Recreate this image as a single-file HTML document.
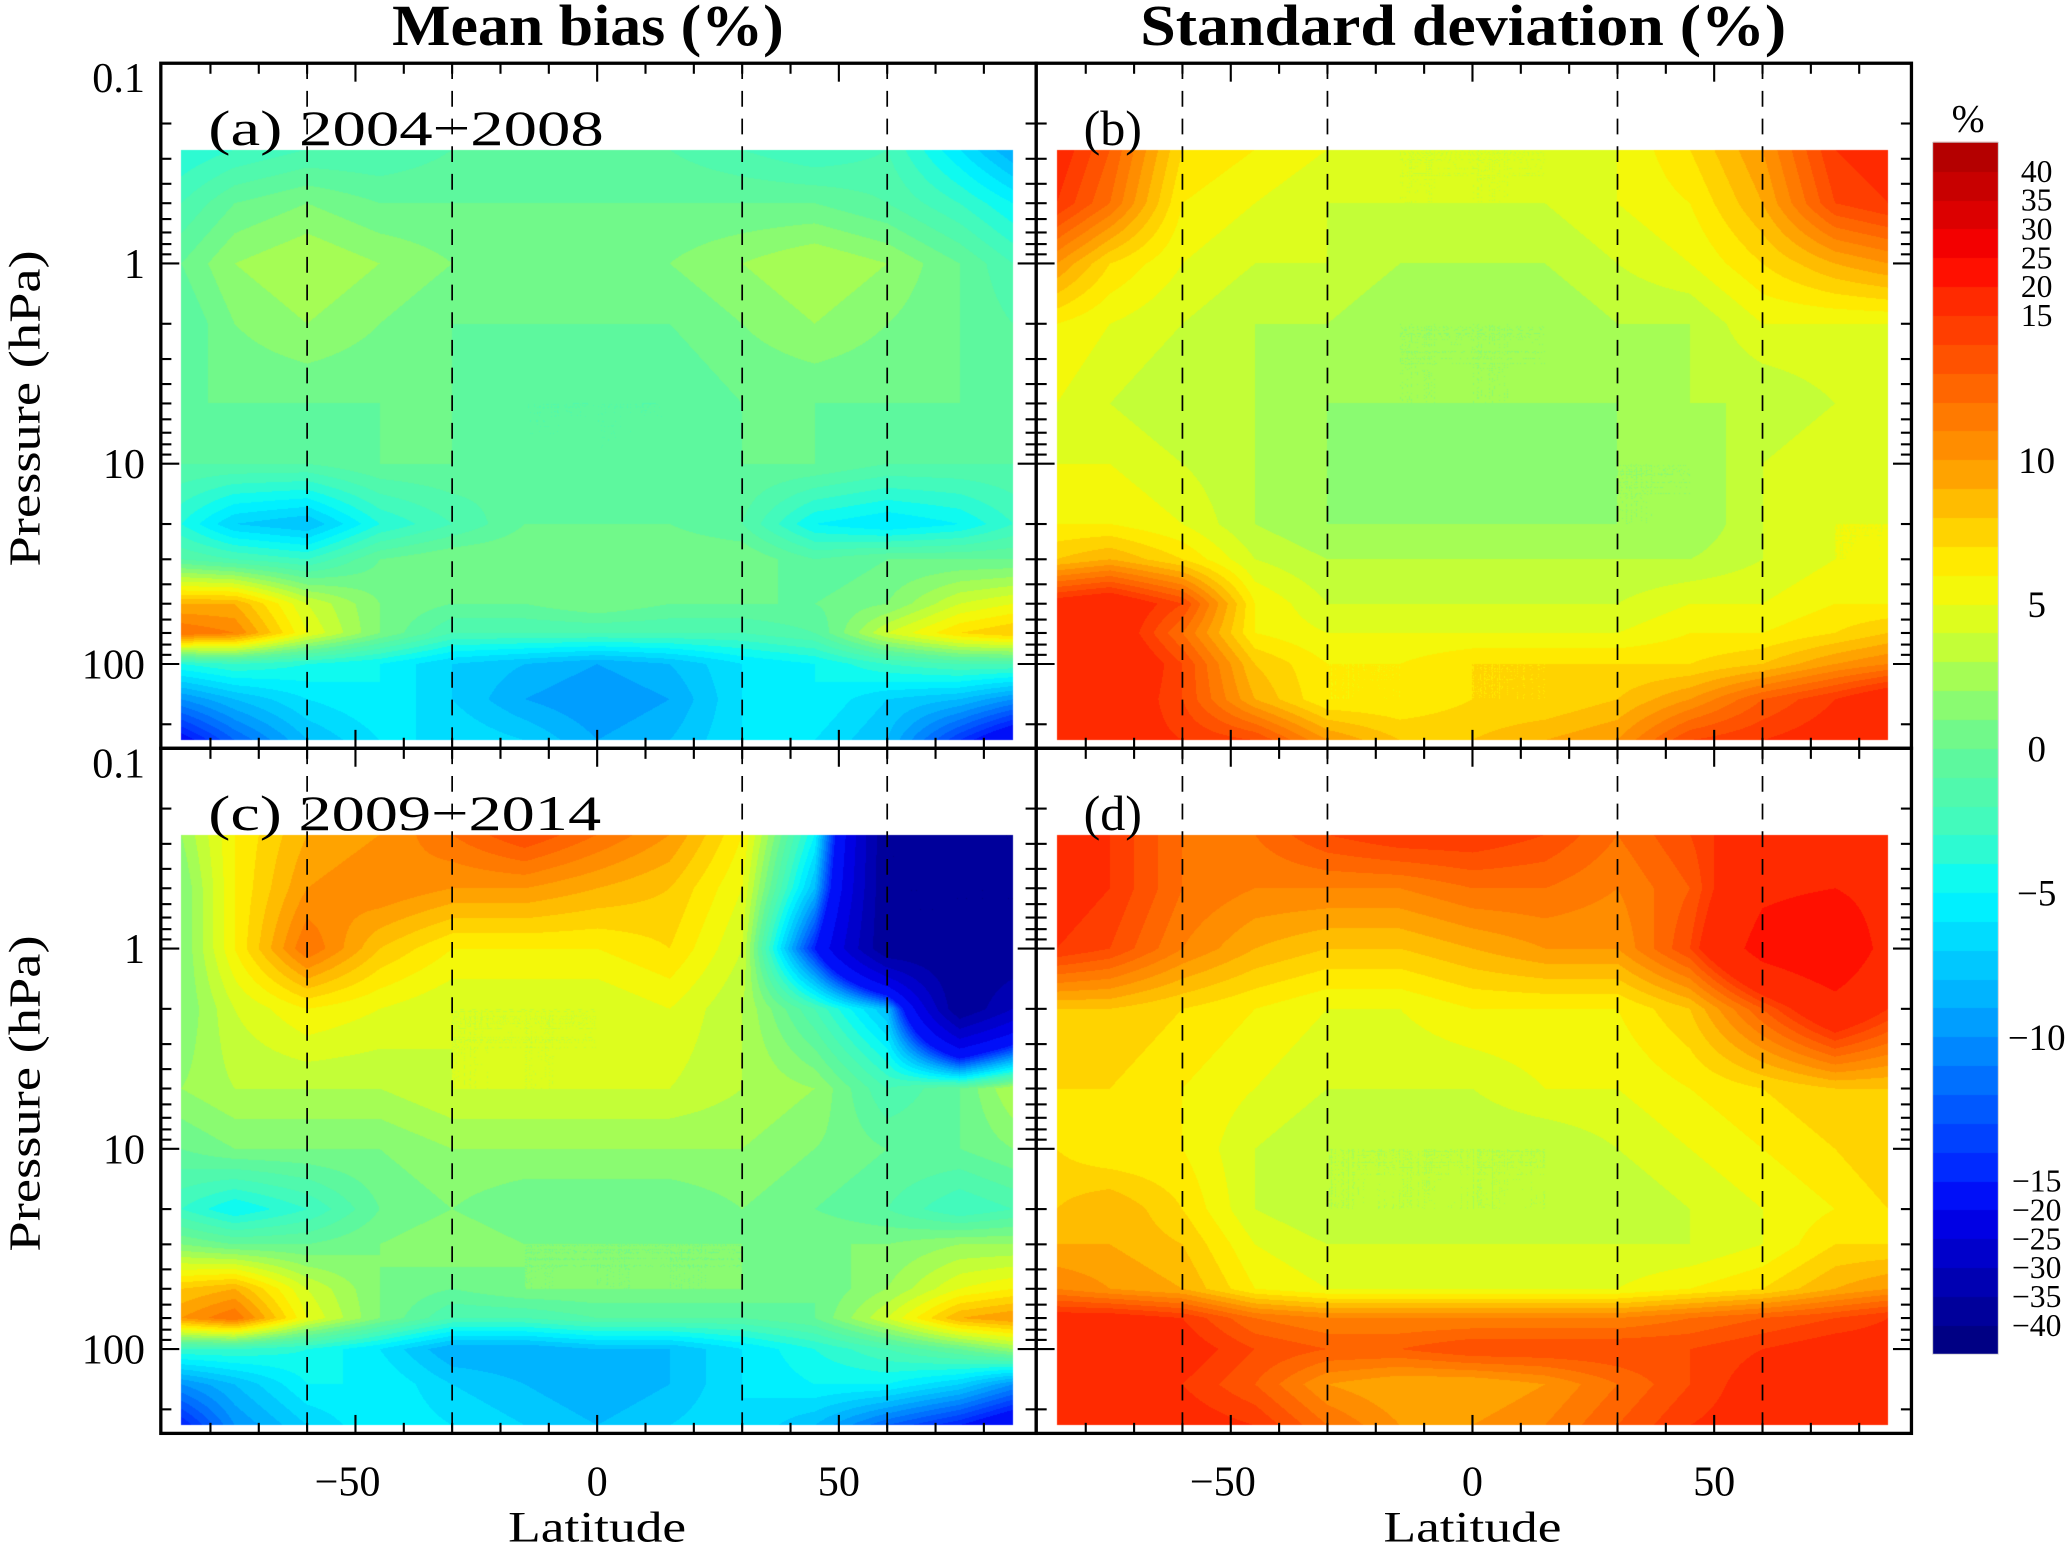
<!DOCTYPE html>
<html><head><meta charset="utf-8">
<style>
html,body{margin:0;padding:0;background:#fff;}
#wrap{position:relative;width:2067px;height:1548px;overflow:hidden;}
#cv{position:absolute;left:0;top:0;}
#sv{position:absolute;left:0;top:0;}
text{font-family:"Liberation Serif",serif;fill:#000;}
</style></head>
<body>
<div id="wrap">
<canvas id="cv" width="2067" height="1548"></canvas>
<svg id="sv" width="2067" height="1548" viewBox="0 0 1568 1175" preserveAspectRatio="none" xmlns="http://www.w3.org/2000/svg">
<g id="axes"></g>
<text x="446" y="34" font-size="44" font-weight="bold" text-anchor="middle" textLength="297" lengthAdjust="spacingAndGlyphs">Mean bias (%)</text>
<text x="1110" y="34" font-size="44" font-weight="bold" text-anchor="middle" textLength="490" lengthAdjust="spacingAndGlyphs">Standard deviation (%)</text>
<text x="158" y="110" font-size="38" textLength="300" lengthAdjust="spacingAndGlyphs">(a)  2004−2008</text>
<text x="822" y="110" font-size="38">(b)</text>
<text x="158" y="630" font-size="38" textLength="298" lengthAdjust="spacingAndGlyphs">(c)  2009−2014</text>
<text x="822" y="630" font-size="38">(d)</text>
<text transform="translate(30,310) rotate(-90)" font-size="34" text-anchor="middle" textLength="240" lengthAdjust="spacingAndGlyphs">Pressure (hPa)</text>
<text transform="translate(30,830) rotate(-90)" font-size="34" text-anchor="middle" textLength="240" lengthAdjust="spacingAndGlyphs">Pressure (hPa)</text>
<text x="453" y="1170" font-size="33" text-anchor="middle" textLength="135" lengthAdjust="spacingAndGlyphs">Latitude</text>
<text x="1117" y="1170" font-size="33" text-anchor="middle" textLength="135" lengthAdjust="spacingAndGlyphs">Latitude</text>
<text x="1493" y="100" font-size="30" text-anchor="middle">%</text>
</svg>
</div>
<script>
const lats=[-86,-75,-60,-45,-30,-15,0,15,30,45,60,75,86];
const pres=[0.27,0.5,1,2,5,10,20,30,50,70,100,150,240];
const biasA=[
[-4,-3,-2,-2,-1,-1,0,-1,-2,-3,-2,-6,-9],
[-2,0,1,0,0,0,0,0,0,0,-1,-3,-5],
[0,2,3,2,1,1,0,1,2,3,2,0,-2],
[-1,1,2,1,0,0,0,0,1,2,1,0,-1],
[0,0,0,0,0,-1,-1,-1,0,0,0,0,0],
[-1,-1,-1,0,0,-1,-1,-1,0,0,-1,-1,-1],
[-4,-7,-8,-4,-2,0,0,0,-1,-5,-6,-5,-3],
[-1,-2,-3,0,1,1,1,1,1,-1,0,0,0],
[9,9,4,1,0,0,1,0,0,0,1,4,5],
[12,11,5,1,-2,-2,-2,-2,-2,-1,4,7,8],
[-4,-3,-4,-5,-7,-8,-9,-8,-6,-5,-3,-2,-2],
[-10,-8,-6,-5,-7,-9,-10,-9,-6,-5,-7,-8,-10],
[-16,-12,-8,-6,-6,-7,-9,-8,-6,-6,-8,-14,-18]];
const stdB=[
[16,13,7,6,5,4,4,4,5,7,10,15,16],
[15,12,6,5,4,4,4,4,5,6,9,14,15],
[10,7,5,4,4,3,3,3,4,5,7,9,10],
[6,5,4,3,3,2,2,2,3,3,5,5,5],
[5,4,3,3,2,2,2,2,2,3,3,4,4],
[5,5,4,3,2,1,1,1,2,2,4,5,4],
[6,6,5,3,2,2,2,2,2,2,4,5,5],
[8,9,7,4,3,3,3,3,3,3,4,5,5],
[16,17,14,6,4,4,4,4,4,5,5,6,6],
[17,17,12,6,5,5,5,5,5,6,6,7,8],
[17,18,14,8,6,6,7,7,7,7,8,10,11],
[16,17,14,9,6,6,7,7,8,10,13,15,17],
[18,16,15,14,10,8,8,9,10,14,15,16,17]];
const biasC=[
[2,6,9,10,12,14,12,10,6,-5,-40,-40,-40],
[1,6,10,11,10,10,9,8,5,-8,-40,-40,-40],
[1,6,12,8,6,6,6,7,4,-15,-40,-40,-40],
[1,4,6,5,4,4,4,5,3,-2,-8,-40,-30],
[2,3,3,3,4,4,4,4,3,2,-2,0,3],
[0,1,1,1,2,2,2,2,2,1,0,0,1],
[-3,-5,-3,0,1,0,0,0,1,0,-1,-3,-2],
[1,0,0,1,2,1,1,1,1,1,1,2,2],
[8,9,4,1,0,1,1,1,1,0,2,5,6],
[10,12,5,1,-2,-2,-1,-1,-1,0,4,9,10],
[-3,-3,-4,-6,-9,-9,-8,-8,-6,-4,-2,0,2],
[-10,-8,-5,-5,-7,-8,-9,-8,-6,-5,-5,-7,-10],
[-15,-10,-7,-5,-6,-7,-8,-7,-6,-8,-12,-15,-18]];
const stdD=[
[16,15,12,12,14,15,15,14,12,14,17,18,16],
[16,15,12,11,11,11,12,12,11,13,19,20,18],
[15,14,11,9,8,8,9,10,10,14,22,25,18],
[8,8,7,6,5,5,6,6,6,8,13,18,15],
[7,7,6,5,4,4,4,5,5,6,7,8,8],
[7,6,6,4,3,3,3,3,4,5,6,7,8],
[8,9,7,4,3,3,3,3,3,4,5,6,7],
[9,9,8,5,4,4,4,4,4,4,5,7,7],
[11,10,9,6,5,5,5,5,5,6,7,9,10],
[16,16,15,12,11,11,11,11,11,12,13,14,15],
[17,17,16,14,13,13,14,14,14,14,15,16,16],
[16,16,15,13,10,9,9,10,12,14,16,16,17],
[17,17,16,15,12,10,10,11,13,15,16,17,17]];
const latTicks=[-50,0,50];
const presTicks=[0.1,1,10,100];
const presTickLabels=["0.1","1","10","100"];
const cbValues=[40,35,30,25,20,15,10,5,0,-5,-10,-15,-20,-25,-30,-35,-40];
const dashLats=[-60,-30,30,60];

const SX=2067/1568, SY=1548/1175;
const panels=[
 {d:biasA,x0:0,y0:0,n:'a'},{d:stdB,x0:664,y0:0,n:'b'},
 {d:biasC,x0:0,y0:520,n:'c'},{d:stdD,x0:664,y0:520,n:'d'}];
function xOf(lat,p){return 453+p.x0+lat*3.667;}
function yOf(pr,p){return 48+p.y0+152*Math.log10(pr/0.1);}
function latOfX(x,p){return (x-453-p.x0)/3.667;}
function presOfY(y,p){return 0.1*Math.pow(10,(y-48-p.y0)/152);}
function pOfV(v){const a=Math.abs(v);return a<=15?v:Math.sign(v)*(15+(a-15)/5);}
const stops=[[-21,[0,0,120]],[-18,[0,0,190]],[-16,[0,0,240]],[-15,[0,30,255]],[-12,[0,100,255]],[-9,[0,170,255]],[-6,[0,230,255]],[-5,[0,250,255]],[-3,[60,250,195]],[0,[100,248,150]],[2,[150,252,100]],[4,[210,255,40]],[6,[255,245,0]],[8,[255,200,0]],[10,[255,150,0]],[12,[255,112,0]],[14,[255,72,0]],[16,[255,32,0]],[17,[255,0,0]],[18,[230,0,0]],[21,[170,0,0]]];
function colP(p){
 for(let i=0;i<stops.length-1;i++){const a=stops[i],b=stops[i+1];
  if(p<=b[0]){const t=Math.max(0,(p-a[0])/(b[0]-a[0]));return a[1].map((c,k)=>Math.round(c+(b[1][k]-c)*t));}}
 return stops[stops.length-1][1];}
function colV(v){let p=pOfV(v);p=Math.max(-21,Math.min(20.99,p));return colP(Math.floor(p)+0.5);}
function findIdx(arr,v){for(let i=0;i<arr.length-1;i++){if(v<=arr[i+1])return i;}return arr.length-2;}
const lp=pres.map(Math.log10);
function sample(d,lat,pr){
 const i=findIdx(lats,lat),j=findIdx(lp,Math.log10(pr));
 let tx=(lat-lats[i])/(lats[i+1]-lats[i]);tx=Math.max(0,Math.min(1,tx));
 let ty=(Math.log10(pr)-lp[j])/(lp[j+1]-lp[j]);ty=Math.max(0,Math.min(1,ty));
 const a=d[j][i],b=d[j][i+1],c=d[j+1][i],e=d[j+1][i+1];
 return a*(1-tx)*(1-ty)+b*tx*(1-ty)+c*(1-tx)*ty+e*tx*ty;}
const ctx=document.getElementById('cv').getContext('2d');
const img=ctx.createImageData(2067,1548);
for(const P of panels){
 const X0=Math.round(xOf(lats[0],P)*SX),X1=Math.round(xOf(lats[lats.length-1],P)*SX);
 const Y0=Math.round(yOf(pres[0],P)*SY),Y1=Math.round(yOf(pres[pres.length-1],P)*SY);
 for(let y=Y0;y<Y1;y++){const pr=presOfY((y+0.5)/SY,P);
  for(let x=X0;x<X1;x++){const lat=latOfX((x+0.5)/SX,P);
   const c=colV(sample(P.d,lat,pr));const o=(y*2067+x)*4;
   img.data[o]=c[0];img.data[o+1]=c[1];img.data[o+2]=c[2];img.data[o+3]=255;}}}
const cbX0=Math.round(1466*SX),cbX1=Math.round(1516*SX);
function cbY(p){return 568-p*21.9;}
for(let y=Math.round(cbY(21)*SY);y<Math.round(cbY(-21)*SY);y++){
 const p=(568-y/SY)/21.9;const c=colP(Math.floor(p)+0.5);
 for(let x=cbX0;x<cbX1;x++){const o=(y*2067+x)*4;img.data[o]=c[0];img.data[o+1]=c[1];img.data[o+2]=c[2];img.data[o+3]=255;}}
for(let o=0;o<img.data.length;o+=4){if(img.data[o+3]===0){img.data[o]=255;img.data[o+1]=255;img.data[o+2]=255;img.data[o+3]=255;}}
ctx.putImageData(img,0,0);

const NS='http://www.w3.org/2000/svg';
const G=document.getElementById('axes');
function mk(tag,attrs,txt){const e=document.createElementNS(NS,tag);for(const k in attrs)e.setAttribute(k,attrs[k]);if(txt!==undefined)e.textContent=txt;G.appendChild(e);return e;}
for(const P of panels){
 const L=122+P.x0,R=786+P.x0,T=48+P.y0,B=568+P.y0;
 for(const dl of dashLats){
  const l=mk('line',{x1:xOf(dl,P),x2:xOf(dl,P),y1:T,y2:B,stroke:'#000','stroke-width':1.3,'stroke-dasharray':'12,9'});
  
  
 }
 const box=mk('rect',{x:L,y:T,width:R-L,height:B-T,fill:'none',stroke:'#000','stroke-width':2.5});
 
 
 for(let lat=-80;lat<=80;lat+=10){
  const len=(lat%50===0)?14:8;const x=xOf(lat,P);
  const t1=mk('line',{x1:x,x2:x,y1:B,y2:B-len,stroke:'#000','stroke-width':1.6});
  
  
  const t2=mk('line',{x1:x,x2:x,y1:T,y2:T+len,stroke:'#000','stroke-width':1.6});
  
  
 }
 for(let e=-1;e<=2;e++){for(let m=1;m<=9;m++){
  const pr=m*Math.pow(10,e);const y=yOf(pr,P);if(y>B)continue;
  const len=m===1?14:8;
  const a=mk('line',{x1:L,x2:L+len,y1:y,y2:y,stroke:'#000','stroke-width':1.6});
  
  
  const b=mk('line',{x1:R,x2:R-len,y1:y,y2:y,stroke:'#000','stroke-width':1.6});
  
  
 }}
 if(P.x0===0){presTicks.forEach((pr,i)=>{
  const t=mk('text',{x:110,y:yOf(pr,P)+(i===0?22:11),'font-size':32,'text-anchor':'end'},presTickLabels[i]);
  
  
 });}
 if(P.y0===520){latTicks.forEach(lat=>{
  const t=mk('text',{x:xOf(lat,P)-(lat<0?6:0),y:1135,'font-size':32,'text-anchor':'middle'},lat<0?'−'+Math.abs(lat):String(lat));
  
  
 });}
}
const cbr=mk('rect',{x:1466,y:cbY(21),width:50,height:cbY(-21)-cbY(21),fill:'none',stroke:'#ccc','stroke-width':0.5});


cbValues.forEach(v=>{
 const t=mk('text',{x:1545,y:cbY(pOfV(v))+(Math.abs(v)>=15?8:10),'font-size':Math.abs(v)>=15?24:28,'text-anchor':'middle'},v<0?'−'+Math.abs(v):String(v));
 
 
});
</script>
</body></html>
